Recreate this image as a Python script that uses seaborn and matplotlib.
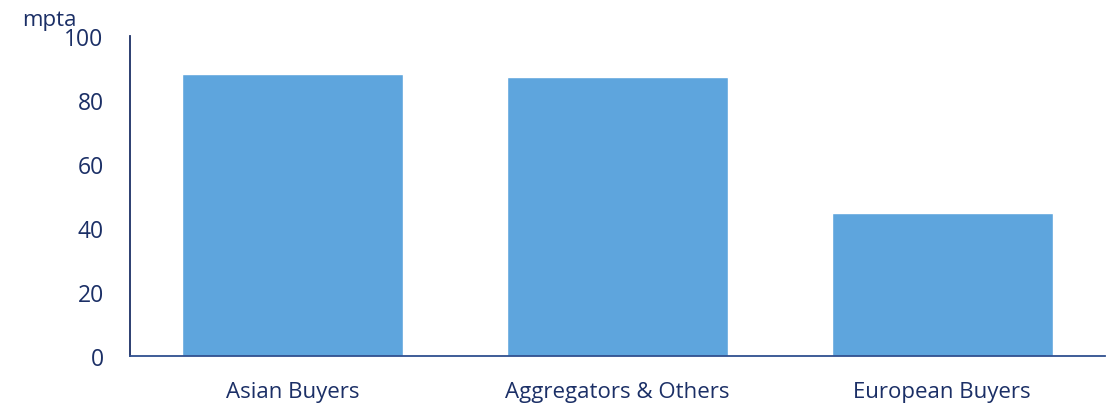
import pandas as pd
import numpy as np
import matplotlib.pyplot as plt
import seaborn as sns

categories = ['Asian Buyers', 'Aggregators & Others', 'European Buyers']
volumes = [88.0, 87.2, 44.7]

df = pd.DataFrame({'buyer': categories, 'mpta': volumes})

sns.set_style('white')
plt.rcParams['font.family'] = ['Open Sans', 'DejaVu Sans']
navy = '#1B2F66'

fig = plt.figure(figsize=(11.17, 4.06), dpi=100)
ax = fig.add_axes([0.1164, 0.1207, 0.8726, 0.7883])
sns.barplot(data=df, x='buyer', y='mpta', color='#5EA5DD', width=0.68,
            saturation=1, ax=ax)

ax.set_ylim(0, 100)
ax.set_yticks(range(0, 101, 20))
ax.set_xlim(-0.5, 2.5)
ax.set_xlabel('')
ax.set_ylabel('')
sns.despine(ax=ax)
ax.spines['left'].set_color(navy)
ax.spines['bottom'].set_color('#2F4F8F')
for s in ['left', 'bottom']:
    ax.spines[s].set_linewidth(1.3)
ax.tick_params(axis='both', length=0, colors=navy)
ax.tick_params(axis='y', pad=19, labelsize=16.5)
ax.tick_params(axis='x', pad=18, labelsize=16)

fig.text(0.02, 0.935, 'mpta', color=navy, fontsize=16)

plt.savefig('out.png', dpi=100)
